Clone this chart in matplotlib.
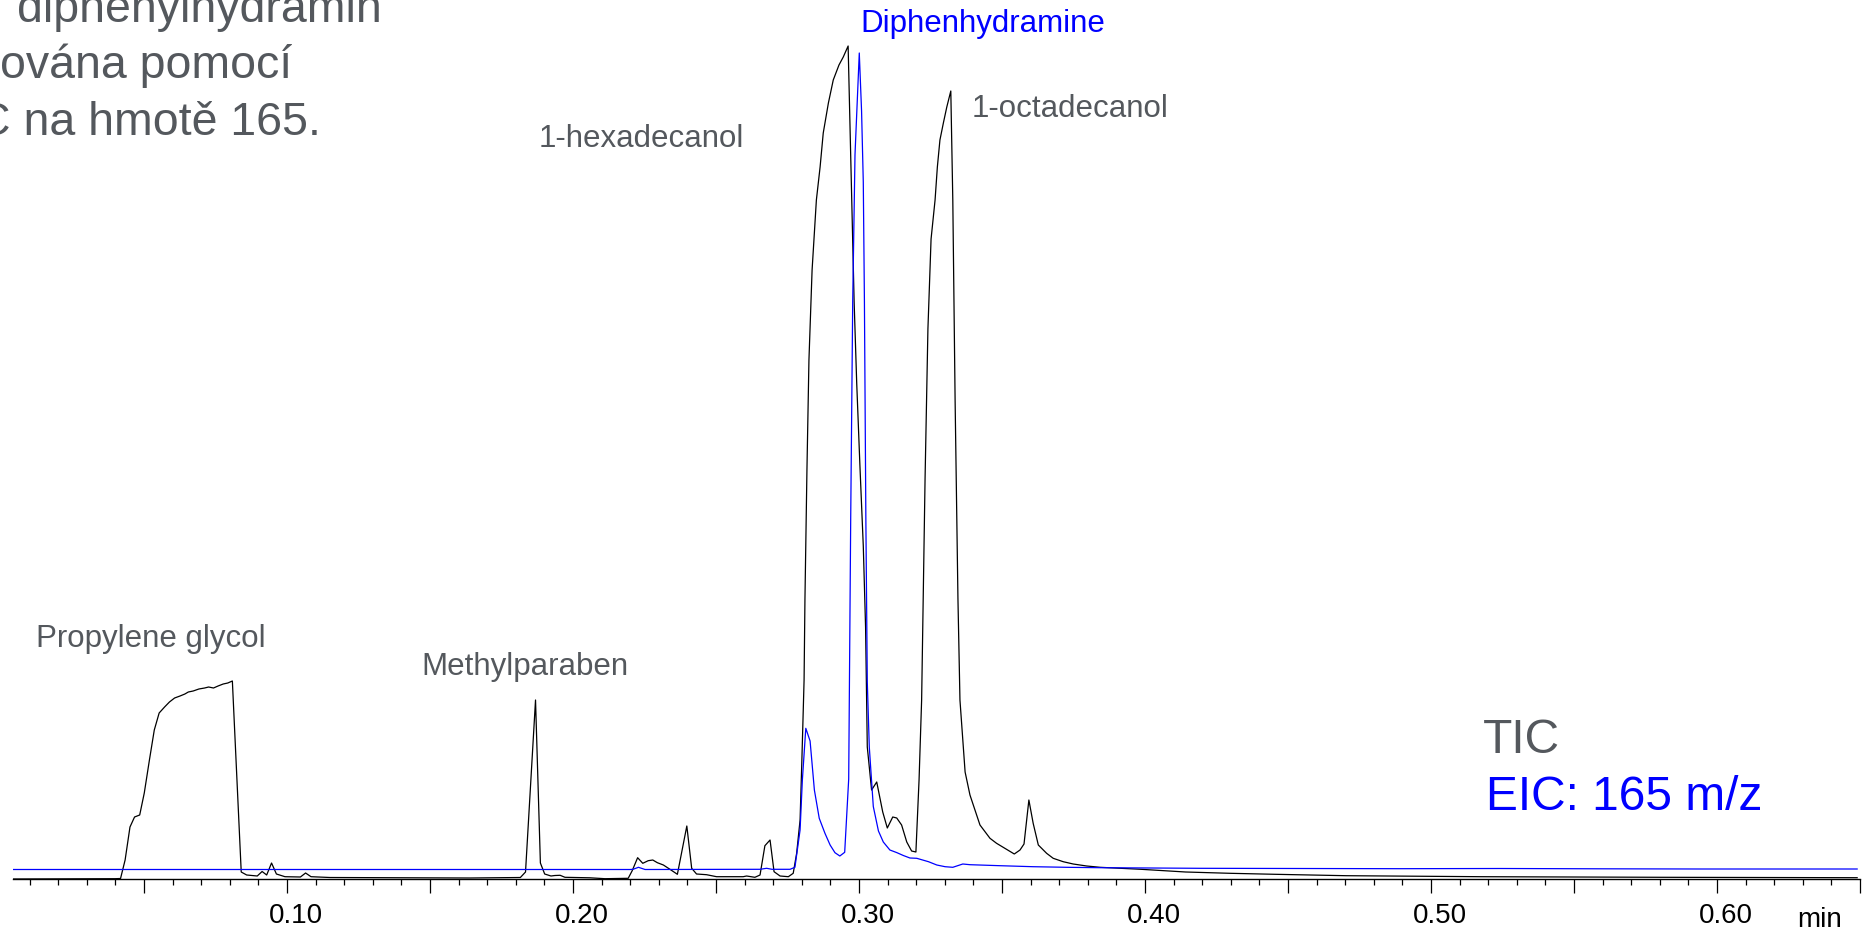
import matplotlib
matplotlib.use("Agg")
import matplotlib.pyplot as plt
import matplotlib.transforms as mtransforms
from matplotlib.ticker import FixedLocator, FixedFormatter, MultipleLocator

plt.rcParams['font.family'] = ['Liberation Sans', 'DejaVu Sans']

W, H = 1867, 932

# TIC trace (black): retention time [min], intensity [a.u.]
tic_time = [0.0042, 0.0399, 0.0418, 0.0434, 0.0451, 0.0467, 0.0485, 0.0501, 0.0519, 0.0536,
            0.0553, 0.0572, 0.0589, 0.0607, 0.0626, 0.0643, 0.0655, 0.0672, 0.0692, 0.0712,
            0.0726, 0.0743, 0.0759, 0.0777, 0.0793, 0.0809, 0.0840, 0.0859, 0.0896, 0.0913,
            0.0929, 0.0946, 0.0963, 0.0993, 0.1047, 0.1065, 0.1084, 0.1150, 0.1395, 0.1640,
            0.1816, 0.1834, 0.1869, 0.1886, 0.1901, 0.1923, 0.1937, 0.1955, 0.1972, 0.2059,
            0.2112, 0.2193, 0.2207, 0.2226, 0.2244, 0.2263, 0.2279, 0.2295, 0.2316, 0.2339,
            0.2365, 0.2398, 0.2415, 0.2432, 0.2467, 0.2502, 0.2595, 0.2607, 0.2636, 0.2654,
            0.2671, 0.2689, 0.2703, 0.2724, 0.2753, 0.2770, 0.2782, 0.2794, 0.2800, 0.2808,
            0.2811, 0.2818, 0.2825, 0.2836, 0.2851, 0.2864, 0.2875, 0.2893, 0.2910, 0.2930,
            0.2945, 0.2962, 0.2974, 0.2983, 0.2992, 0.3003, 0.3015, 0.3023, 0.3029, 0.3044,
            0.3062, 0.3083, 0.3099, 0.3118, 0.3132, 0.3149, 0.3167, 0.3184, 0.3199, 0.3210,
            0.3219, 0.3231, 0.3241, 0.3252, 0.3266, 0.3274, 0.3283, 0.3295, 0.3307, 0.3321,
            0.3328, 0.3336, 0.3346, 0.3353, 0.3371, 0.3388, 0.3423, 0.3458, 0.3481, 0.3510,
            0.3543, 0.3563, 0.3577, 0.3594, 0.3609, 0.3627, 0.3656, 0.3679, 0.3714, 0.3749,
            0.3796, 0.3843, 0.3986, 0.4142, 0.4297, 0.4455, 0.4703, 0.5175, 0.5808, 0.6490]
tic_signal = [0, 0.3, 0.5, 19, 52, 62, 64, 86, 119, 149,
              166, 172, 177, 181, 183, 185, 187, 188, 190, 191,
              192, 191, 193, 195, 196, 198, 7, 4, 3, 7.5,
              4, 16, 5, 2.3, 2, 6, 2.3, 1.5, 1.2, 1.0,
              1.5, 7, 179, 16, 5, 3, 3.5, 3.7, 1.7, 1.2,
              0.3, 0.7, 8.3, 21.3, 15.7, 18.3, 19, 16.3, 14, 9.7,
              4.7, 53, 10.7, 5, 4.3, 2.3, 2.3, 3, 1.7, 4,
              33.3, 39, 7.3, 3, 2.3, 5.7, 25.7, 59, 116, 199,
              279, 409, 519, 609, 679, 712, 746, 776, 799, 814,
              822, 833, 686, 577, 496, 415, 333, 252, 132, 89,
              97, 67, 51, 62, 61, 54, 37, 28, 27, 99,
              179, 400, 550, 640, 679, 712, 739, 756, 772, 788,
              679, 480, 280, 179, 107, 84, 54, 40.7, 35.7, 30.7,
              25, 29, 35, 79, 55.7, 34, 25.7, 20.7, 17.3, 15,
              13, 11.7, 9.7, 7, 5.7, 4.7, 3.3, 2.3, 1.7, 1.3]

# EIC 165 m/z trace (blue)
eic_time = [0.0042, 0.2200, 0.2210, 0.2229, 0.2252, 0.2654, 0.2677, 0.2696, 0.2759, 0.2776,
            0.2794, 0.2802, 0.2814, 0.2829, 0.2844, 0.2861, 0.2881, 0.2899, 0.2916, 0.2933,
            0.2950, 0.2964, 0.2971, 0.2978, 0.2986, 0.3001, 0.3009, 0.3015, 0.3019, 0.3024,
            0.3029, 0.3036, 0.3050, 0.3068, 0.3085, 0.3108, 0.3132, 0.3155, 0.3178, 0.3202,
            0.3243, 0.3272, 0.3301, 0.3328, 0.3363, 0.3388, 0.3493, 0.3608, 0.3726, 0.3843,
            0.4192, 0.4892, 0.5241, 0.5591, 0.5941, 0.6490]
eic_signal = [9.5, 9.5, 9.7, 11.7, 9.5, 9.7, 10.7, 9.7, 9.7, 11.7,
              49, 99, 150.7, 138, 89, 60.7, 45.7, 34, 26.3, 23,
              26.7, 100, 360, 577, 724, 826, 768, 697, 577, 360,
              197, 132, 72.5, 48, 37, 29, 26.4, 23.5, 21, 20.7,
              17.3, 14, 12.3, 11.7, 15, 14.3, 13.3, 12.3, 11.7, 11.3,
              10.7, 10.3, 10.5, 10.2, 10.0, 10.0]

major_ticks = [0.05, 0.10, 0.15, 0.20, 0.25, 0.30, 0.35, 0.40, 0.45, 0.50, 0.55, 0.60, 0.65]
tick_labels = ["", "0.10", "", "0.20", "", "0.30", "", "0.40", "", "0.50", "", "0.60", ""]

gray = "#54585d"
blue = "#0000ff"

# peak labels: text, left px, baseline px, colour
peak_labels = [
    ("Propylene glycol", 36, 647, gray),
    ("Methylparaben", 421, 675, gray),
    ("1-hexadecanol", 539, 147, gray),
    ("Diphenhydramine", 860, 32, blue),
    ("1-octadecanol", 972, 117, gray),
]
note_lines = [("diphenylhydramin", 17, 22), ("ována pomocí", 0, 78), ("C na hmotě 165.", -23, 135)]

fig = plt.figure(figsize=(W / 100, H / 100), dpi=100)
ax = fig.add_axes([13 / W, (H - 879) / H, (1860 - 13) / W, 879 / H])

ax.plot(tic_time, tic_signal, color="black", lw=0.9)
ax.plot(eic_time, eic_signal, color=blue, lw=0.9)

ax.set_xlim(0.0042, 0.650)
ax.set_ylim(0, 879)
for s in ["top", "left", "right"]:
    ax.spines[s].set_visible(False)
ax.spines["bottom"].set_linewidth(1.0)
ax.set_yticks([])
ax.xaxis.set_major_locator(FixedLocator(major_ticks))
ax.xaxis.set_major_formatter(FixedFormatter(tick_labels))
ax.xaxis.set_minor_locator(MultipleLocator(0.01))
ax.tick_params(axis="x", which="major", length=10, width=0.9, direction="out",
               labelsize=20, pad=7)
ax.tick_params(axis="x", which="minor", length=4.5, width=0.9, direction="out")

# the labels sit a little right of their ticks in the original
shift = mtransforms.ScaledTranslation(9 / 100, 0, fig.dpi_scale_trans)
for lab in ax.get_xticklabels():
    lab.set_transform(lab.get_transform() + shift)


def ftext(x, y, s, **kw):
    fig.text(x / W, 1 - y / H, s, va="baseline", ha="left", **kw)


for name, x, y, c in peak_labels:
    ftext(x, y, name, color=c, fontsize=22.5)

for s, x, y in note_lines:
    ftext(x, y, s, color=gray, fontsize=33.5)

ftext(1483, 753, "TIC", color=gray, fontsize=34.5)
ftext(1486, 810, "EIC: 165 m/z", color=blue, fontsize=34.5)
ftext(1797, 927, "min", color="black", fontsize=20)

fig.savefig("out.png", dpi=100)
